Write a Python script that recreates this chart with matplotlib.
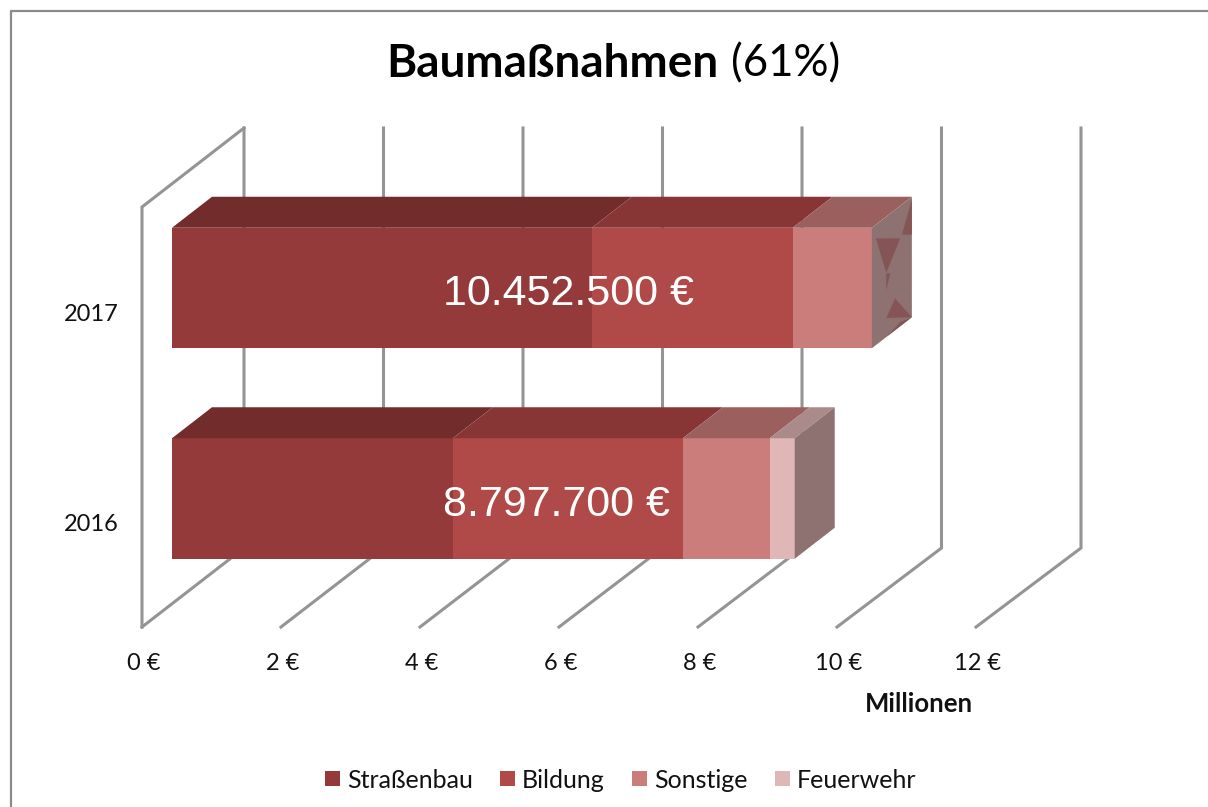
#!/usr/bin/env python3
import matplotlib

matplotlib.use("Agg")
import matplotlib.pyplot as plt

years = ["2016", "2017"]
segments = ["Straßenbau", "Bildung", "Sonstige", "Feuerwehr"]
strassenbau = [4.04, 6.04]
bildung = [3.31, 2.89]
sonstige = [1.25, 1.14]
feuerwehr = [0.36, 0.0]
totals = ["8.797.700 €", "10.452.500 €"]
x_ticks = [0, 2, 4, 6, 8, 10, 12]
x_tick_labels = ["0 €", "2 €", "4 €", "6 €", "8 €", "10 €", "12 €"]

FRONT = ["#953a3a", "#b04a48", "#cb7d7b", "#e0b7b7"]
TOP = ["#722c2c", "#873535", "#9b5f5e", "#aa8b8a"]
SIDE = "#8e7272"
GLITCH = "#855555"
GRID = "#949494"

W, H = 1208, 807
PX_X = 69.5  # pixels per million
PX_Y = 210.5  # pixels per category step
X0, Y0 = 142, 498.5  # pixel of x=0 on the floor front, pixel of 2016 centre
BAR_SHIFT = 30 / PX_X  # bars start a bit inside the floor
BAR_H = 120.5 / PX_Y
BAR_DX, BAR_DY = 40 / PX_X, 31 / PX_Y
WALL_DX, WALL_DY = 102 / PX_X, 79 / PX_Y
WALL_STRETCH = 69.75 / 69.5  # back wall is a touch wider than the floor front
FLOOR_Y = (Y0 - 627) / PX_Y
WALL_TOP = (Y0 - 207) / PX_Y

# z-fighting artefacts on the 2017 end face, (depth, height) fractions
side_artifacts = [
    [(0.10, 0.886), (0.71, 0.73), (0.36, 0.533)],
    [(0.36, 0.528), (0.46, 0.503), (0.36, 0.389)],
    [(0.58, 0.264), (1.0, 0.0), (0.36, 0.158)],
    [(1.0, 0.978), (1.0, 0.686), (0.75, 0.75)],
    [(0.375, 0.0), (1.0, 0.0), (0.71, 0.036)],
]


def draw_walls(ax):
    style = dict(color=GRID, lw=2.2, solid_joinstyle="miter", zorder=1)
    for x in x_ticks:
        back = x * WALL_STRETCH + WALL_DX
        ax.plot([x, back, back],
                [FLOOR_Y, FLOOR_Y + WALL_DY, WALL_TOP + WALL_DY], **style)
    ax.plot([0, 0, WALL_DX], [FLOOR_Y, WALL_TOP, WALL_TOP + WALL_DY], **style)


def draw_bar(ax, y, values):
    left = BAR_SHIFT
    bottom = y - BAR_H / 2
    top = y + BAR_H / 2
    for value, front, lid in zip(values, FRONT, TOP):
        if value <= 0:
            continue
        right = left + value
        ax.fill([left, right, right, left], [bottom, bottom, top, top],
                color=front, lw=0, zorder=3)
        ax.fill([left, right, right + BAR_DX, left + BAR_DX],
                [top, top, top + BAR_DY, top + BAR_DY],
                color=lid, lw=0, zorder=3)
        left = right
    ax.fill([left, left + BAR_DX, left + BAR_DX, left],
            [bottom, bottom + BAR_DY, top + BAR_DY, top],
            color=SIDE, lw=0, zorder=3)
    return left, bottom


def main():
    fig = plt.figure(figsize=(W / 100, H / 100), dpi=100)
    ax = fig.add_axes([0, 0, 1, 1])
    ax.set_xlim(-X0 / PX_X, (W - X0) / PX_X)
    ax.set_ylim((Y0 - H) / PX_Y, Y0 / PX_Y)
    ax.axis("off")

    draw_walls(ax)

    rows = list(zip(strassenbau, bildung, sonstige, feuerwehr))
    ends = [draw_bar(ax, i, row) for i, row in enumerate(rows)]

    end, bottom = ends[1]
    for tri in side_artifacts:
        ax.fill([end + d * BAR_DX for d, h in tri],
                [bottom + d * BAR_DY + h * BAR_H for d, h in tri],
                color=GLITCH, lw=0, zorder=4)

    label_x = [5.97, 6.13]
    label_y = [-0.03, 0.97]
    for i, text in enumerate(totals):
        ax.text(label_x[i], label_y[i], text, color="white", fontsize=31,
                family="Liberation Sans", ha="center", va="center", zorder=5)
        ax.text(-0.34, i - 0.125, years[i], fontsize=17, family="Lato",
                ha="right", va="center", color="#111111")

    for x, lab in zip(x_ticks, x_tick_labels):
        ax.text(x + 0.02, (Y0 - 664) / PX_Y, lab, fontsize=17, family="Lato",
                ha="center", va="center", color="#111111")
    ax.text(11.18, (Y0 - 704) / PX_Y, "Millionen", fontsize=18.5, family="Lato",
            weight="bold", ha="center", va="center", color="#111111")

    # title in two weights
    fig.text(718 / W, 1 - 64 / H, "Baumaßnahmen", fontsize=33, family="Lato",
             weight="bold", ha="right", va="center", color="black")
    fig.text(731 / W, 1 - 64 / H, "(61%)", fontsize=31.5, family="Lato",
             ha="left", va="center", color="black")

    # legend placed by hand like the office export
    legend_x = [325, 500, 632, 775]
    for name, color, px in zip(segments, FRONT, legend_x):
        fig.patches.append(plt.Rectangle((px / W, 1 - 786 / H), 15 / W, 15 / H,
                                         transform=fig.transFigure, color=color, lw=0))
        fig.text((px + 22) / W, 1 - 780 / H, name, fontsize=18, family="Lato",
                 ha="left", va="center", color="#111111")

    # chart border, the right and bottom edges fall outside the crop
    ax.plot([(10.5 - X0) / PX_X, (10.5 - X0) / PX_X, (W - X0) / PX_X],
            [(Y0 - H) / PX_Y, (Y0 - 11) / PX_Y, (Y0 - 11) / PX_Y],
            color="#8a8a8a", lw=1.6, zorder=2)

    fig.savefig("out.png", dpi=100)
    plt.close(fig)


if __name__ == "__main__":
    main()
